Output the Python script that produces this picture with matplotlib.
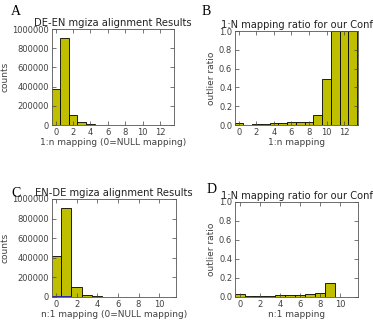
import numpy as np
import matplotlib.pyplot as plt
from matplotlib.ticker import FuncFormatter

# panel A: DE-EN counts per 1:n mapping
a_x = list(range(14))
a_counts = [380000, 905000, 100000, 30000, 12000, 5000, 3000, 1500, 1000, 5000, 800, 500, 300, 200]

# panel B: outlier ratio per 1:n mapping
b_x = list(range(14))
b_ratio = [0.02, 0.005, 0.01, 0.015, 0.02, 0.025, 0.03, 0.03, 0.03, 0.11, 0.49, 1.0, 1.0, 1.0]

# panel C: EN-DE counts per n:1 mapping
c_x = list(range(12))
c_counts = [415000, 905000, 100000, 25000, 12000, 4000, 2000, 1000, 300, 200, 100, 50]
c_null = [15000, 12000]

# panel D: outlier ratio per n:1 mapping
d_x = list(range(10))
d_ratio = [0.03, 0.01, 0.01, 0.015, 0.02, 0.02, 0.025, 0.03, 0.04, 0.145]

bar_color = (0.75, 0.75, 0.0)
txt = '#404040'
plain = FuncFormatter(lambda v, p: '%d' % v)

fig = plt.figure(figsize=(3.73, 3.30), dpi=100)


def style(ax, title, xlabel, ylabel, tsize=7.2):
    ax.set_title(title, fontsize=tsize, color='#222222', pad=2)
    ax.set_xlabel(xlabel, fontsize=6.5, color=txt, labelpad=1)
    ax.set_ylabel(ylabel, fontsize=6.5, color=txt, labelpad=2)
    ax.tick_params(direction='in', top=True, right=True, labelsize=6,
                   colors=txt, length=3, width=0.5, pad=2)
    for s in ax.spines.values():
        s.set_linewidth(0.6)
        s.set_color('#555555')


axA = fig.add_axes([0.139, 0.621, 0.327, 0.291])
axA.bar(a_x, a_counts, width=1.0, color=bar_color, edgecolor='black', linewidth=0.6)
axA.set_xlim(-0.45, 13.6)
axA.set_ylim(0, 1000000)
axA.set_xticks(range(0, 13, 2))
axA.set_yticks(range(0, 1000001, 200000))
axA.yaxis.set_major_formatter(plain)
style(axA, 'DE-EN mgiza alignment Results', '1:n mapping (0=NULL mapping)', 'counts')

axB = fig.add_axes([0.630, 0.621, 0.330, 0.285])
axB.bar(b_x, b_ratio, width=1.0, color=bar_color, edgecolor='black', linewidth=0.6)
axB.set_xlim(-0.45, 13.6)
axB.set_ylim(0, 1.0)
axB.set_xticks(range(0, 13, 2))
axB.set_yticks(np.arange(0, 1.01, 0.2))
axB.set_yticklabels(['0.0', '0.2', '0.4', '0.6', '0.8', '1.0'])
style(axB, '1:N mapping ratio for our Conf', '1:n mapping', 'outlier ratio', 7.1)

axC = fig.add_axes([0.139, 0.100, 0.332, 0.297])
axC.bar(c_x, c_counts, width=1.0, color=bar_color, edgecolor='black', linewidth=0.6)
axC.bar(c_x[:2], c_null, width=1.0, color='#2020c0', edgecolor='#2020c0', linewidth=0.6)
axC.set_xlim(-0.4, 11.6)
axC.set_ylim(0, 1000000)
axC.set_xticks(range(0, 11, 2))
axC.set_yticks(range(0, 1000001, 200000))
axC.yaxis.set_major_formatter(plain)
style(axC, 'EN-DE mgiza alignment Results', 'n:1 mapping (0=NULL mapping)', 'counts')

axD = fig.add_axes([0.630, 0.100, 0.330, 0.288])
axD.bar(d_x, d_ratio, width=1.0, color=bar_color, edgecolor='black', linewidth=0.6)
axD.set_xlim(-0.5, 11.8)
axD.set_ylim(0, 1.0)
axD.set_xticks(range(0, 11, 2))
axD.set_yticks(np.arange(0, 1.01, 0.2))
axD.set_yticklabels(['0.0', '0.2', '0.4', '0.6', '0.8', '1.0'])
style(axD, '1:N mapping ratio for our Conf', 'n:1 mapping', 'outlier ratio', 7.1)

# panel letters
for lbl, x, y in [('A', 0.030, 0.965), ('B', 0.540, 0.965),
                  ('C', 0.030, 0.415), ('D', 0.553, 0.425)]:
    fig.text(x, y, lbl, fontsize=10, family='Liberation Serif', color='black',
             ha='left', va='center')

fig.savefig('out.png', dpi=100)
